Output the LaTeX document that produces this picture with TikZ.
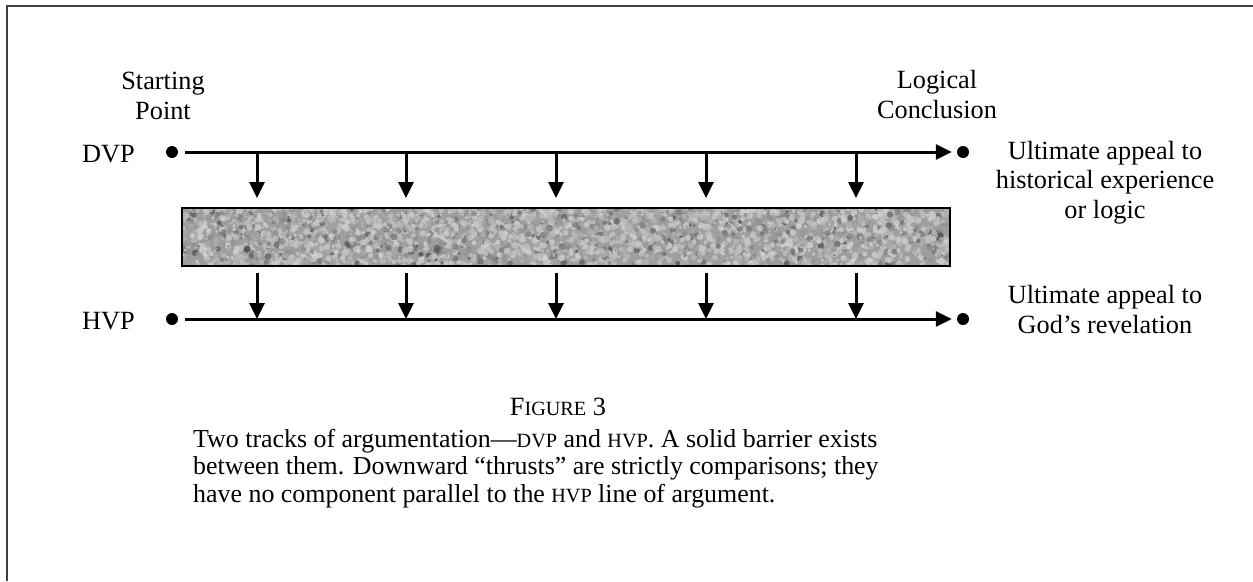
\documentclass[tikz,border=0pt]{standalone}
\usepackage{fontspec}
\setmainfont{Liberation Serif}
\usetikzlibrary{arrows.meta}
\newcommand\fsc[1]{{\fontsize{20.2}{20.2}\selectfont #1}}
\begin{document}
\begin{tikzpicture}[x=1pt,y=-1pt,
  lbl/.style={font=\fontsize{26.3}{29.5}\selectfont, inner sep=0pt, align=center},
  captext/.style={font=\fontsize{25.9}{27.2}\selectfont, inner sep=0pt, align=left},
  dot/.style={circle, fill=black, inner sep=0pt, minimum size=12pt},
  track/.style={line width=3pt, -{Triangle[length=16pt,width=15pt]}},
  thrust/.style={line width=3pt, -{Triangle[length=16pt,width=15pt]}},
  frameline/.style={line width=1.8pt, draw=black!75}
]
\useasboundingbox (0,0) rectangle (1253,581);
% frame
\draw[frameline] (7,581) -- (7,6) -- (1253,6);

% barrier texture
\begin{scope}
  \clip (181,207) rectangle (949,265);
  \fill[black!38] (181,207) rectangle (949,265);
  \pgfmathsetseed{7}
  \foreach \i in {1,...,3400}{
    \pgfmathsetmacro\xx{181+768*rnd}
    \pgfmathsetmacro\yy{207+58*rnd}
    \pgfmathsetmacro\gg{int(16+64*rnd*rnd)}
    \pgfmathsetmacro\rr{1.3+2.2*rnd}
    \fill[black!\gg, opacity=0.7] (\xx,\yy) circle[radius=\rr];
  }
\end{scope}
\node[draw, line width=1.6pt, minimum width=768pt, minimum height=58pt, inner sep=0pt, anchor=north west] (barrier) at (181,207) {};

% dots
\node[dot] (dvpS) at (172,152) {};
\node[dot] (dvpE) at (963,152) {};
\node[dot] (hvpS) at (172,319) {};
\node[dot] (hvpE) at (963,319) {};

% tracks
\draw[track, shorten <=7pt, shorten >=5pt] (dvpS) -- (dvpE);
\draw[track, shorten <=7pt, shorten >=5pt] (hvpS) -- (hvpE);

% thrusts
\foreach \k/\x in {1/257,2/406,3/556,4/706,5/856}{
  \coordinate (t\k) at (\x,152);
  \coordinate (u\k) at (\x,319);
  \draw[thrust] (t\k) -- ([yshift=9pt]barrier.north -| t\k);
  \draw[thrust] ([yshift=-6pt]barrier.south -| u\k) -- (u\k);
}

% labels
\node[lbl, anchor=base west] (dvp) at (82,162) {DVP};
\node[lbl, anchor=base west] (hvp) at (82,329) {HVP};
\node[lbl, anchor=base] (start) at (163,119) {Starting\\Point};
\node[lbl, anchor=base] (concl) at (937,118) {Logical\\Conclusion};
\node[lbl, anchor=base] (appealD) at (1105,218) {Ultimate appeal to\\historical experience\\or logic};
\node[lbl, anchor=base] (appealH) at (1105,333) {Ultimate appeal to\\God’s revelation};

% caption
\node[lbl, anchor=base] (fig) at (558,415) {F\fsc{IGURE} 3};
\node[captext, anchor=base west] (captxt) at (193,502) {Two tracks of argumentation—\fsc{DVP} and \fsc{HVP}. A solid barrier exists\\between them. Downward “thrusts” are strictly comparisons; they\\have no component parallel to the \fsc{HVP} line of argument.};
\end{tikzpicture}
\end{document}
